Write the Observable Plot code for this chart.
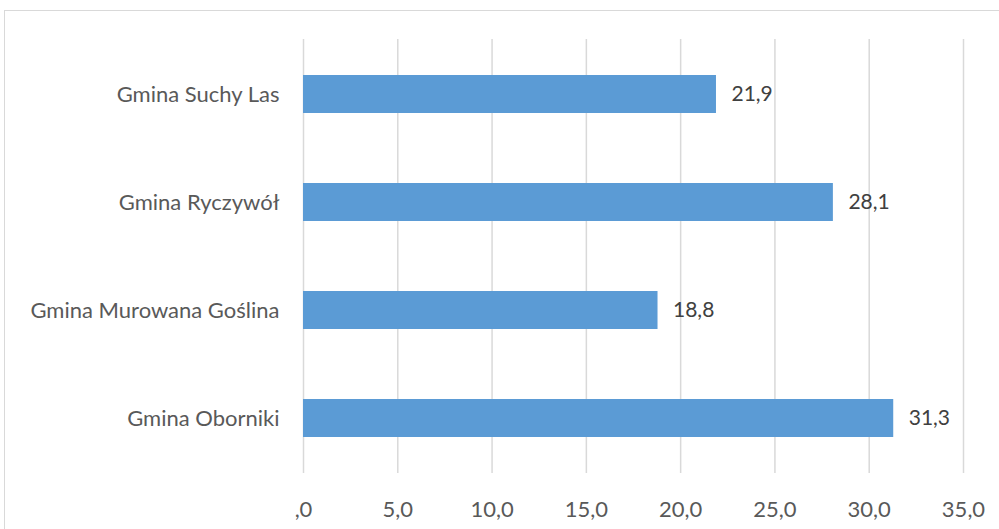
<!DOCTYPE html>
<html>
<head>
<meta charset="utf-8">
<script src="https://cdn.jsdelivr.net/npm/d3@7"></script>
<script src="https://cdn.jsdelivr.net/npm/@observablehq/plot@0.6"></script>
<style>
  html, body { margin: 0; padding: 0; background: #fff; overflow: hidden; }
  #wrap { position: relative; width: 999px; height: 529px; }
  #frame { position: absolute; left: 4px; top: 10px; width: 1010px; height: 540px; border: 1px solid #d9d9d9; box-sizing: border-box; }
  #chart { position: absolute; left: 0; top: 0; }
</style>
</head>
<body>
<div id="wrap"><div id="frame"></div><div id="chart"></div></div>
<script>
const categories = ["Gmina Suchy Las", "Gmina Ryczywół", "Gmina Murowana Goślina", "Gmina Oborniki"];
const values = [21.9, 28.1, 18.8, 31.3];
const tickValues = [0, 5, 10, 15, 20, 25, 30, 35];
const tickLabels = [",0", "5,0", "10,0", "15,0", "20,0", "25,0", "30,0", "35,0"];

const data = categories.map((c, i) => ({category: c, value: values[i]}));
const fmt = v => v.toFixed(1).replace(".", ",");

const chart = Plot.plot({
  width: 999,
  height: 529,
  marginLeft: 303,
  marginRight: 36,
  marginTop: 39,
  marginBottom: 56,
  style: {fontFamily: "Lato, 'Open Sans', sans-serif", background: "transparent"},
  x: {domain: [0, 35], label: null},
  y: {domain: categories, paddingInner: 0.65, paddingOuter: 0.325, label: null},
  marks: [
    Plot.ruleX(tickValues, {stroke: "#d9d9d9", strokeWidth: 1.5}),
    Plot.barX(data, {x: "value", y: "category", fill: "#5b9bd5"}),
    Plot.axisX({ticks: tickValues, tickFormat: (d) => tickLabels[tickValues.indexOf(d)], tickSize: 0, tickPadding: 28, fontSize: 22, fill: "#595959", label: null}),
    Plot.axisY({tickSize: 0, tickPadding: 24, fontSize: 22, fill: "#595959", label: null}),
    Plot.text(data, {x: "value", y: "category", text: d => fmt(d.value), dx: 15, textAnchor: "start", fill: "#404040", fontSize: 21})
  ]
});
document.getElementById("chart").appendChild(chart);
</script>
</body>
</html>
